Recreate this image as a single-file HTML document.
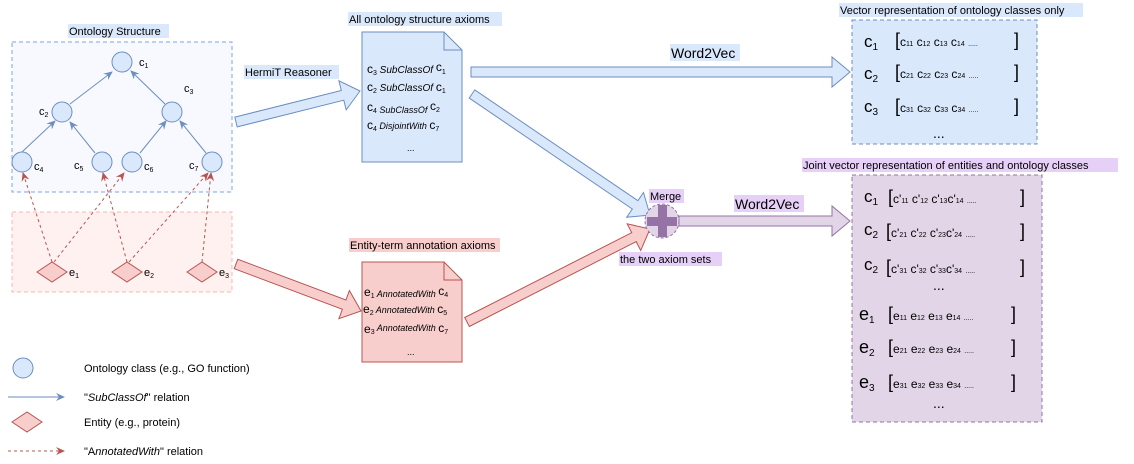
<!DOCTYPE html>
<html><head><meta charset="utf-8"><style>
html,body{margin:0;padding:0;background:#fff}
svg{display:block}
text{font-family:"Liberation Sans",sans-serif;fill:#000}
.i{font-style:italic}
</style></head><body>
<svg id="s" width="1134" height="464" viewBox="0 0 1134 464" xmlns="http://www.w3.org/2000/svg">
<defs>
<marker id="ab" markerWidth="10" markerHeight="10" refX="8" refY="4" orient="auto" markerUnits="userSpaceOnUse"><path d="M0,0 L9,4 L0,8 L3,4z" fill="#6c8ebf"/></marker>
<marker id="ar" markerWidth="10" markerHeight="10" refX="8" refY="4" orient="auto" markerUnits="userSpaceOnUse"><path d="M0,0 L9,4 L0,8 L3,4z" fill="#b85450"/></marker>
</defs>
<rect x="12" y="42" width="220" height="150" fill="#f7f9fe" stroke="#7ea6e0" stroke-dasharray="4,3"/>
<rect x="68" y="24" width="101" height="14" fill="#dae8fc"/>
<text x="69" y="35" font-size="11">Ontology Structure</text>
<rect x="12" y="212" width="220" height="80" fill="#fff1ef" stroke="#f4b8b3" stroke-dasharray="4,3"/>
<g stroke="#6c8ebf" stroke-width="1" marker-end="url(#ab)">
<line x1="70" y1="104" x2="112" y2="72"/>
<line x1="165" y1="104" x2="131" y2="71"/>
<line x1="22" y1="152" x2="55" y2="121"/>
<line x1="95" y1="153" x2="70" y2="122"/>
<line x1="140" y1="153" x2="166" y2="121"/>
<line x1="206" y1="153" x2="180" y2="121"/>
</g>
<g stroke="#b85450" stroke-dasharray="3,3" marker-end="url(#ar)">
<line x1="52" y1="262" x2="23" y2="173"/>
<line x1="54" y1="262" x2="124" y2="173"/>
<line x1="127" y1="262" x2="103" y2="173"/>
<line x1="129" y1="262" x2="208" y2="173"/>
<line x1="202" y1="262" x2="211" y2="173"/>
</g>
<g fill="#dae8fc" stroke="#6c8ebf">
<circle cx="122" cy="62" r="10"/><circle cx="62" cy="112" r="10"/><circle cx="172" cy="112" r="10"/>
<circle cx="22" cy="162" r="10"/><circle cx="102" cy="162" r="10"/><circle cx="132" cy="162" r="10"/><circle cx="212" cy="162" r="10"/>
</g>
<g font-size="11">
<text x="139" y="66">c<tspan font-size="7" dy="2">1</tspan></text>
<text x="39" y="115">c<tspan font-size="7" dy="2">2</tspan></text>
<text x="184" y="92">c<tspan font-size="7" dy="2">3</tspan></text>
<text x="34" y="170">c<tspan font-size="7" dy="2">4</tspan></text>
<text x="74" y="169">c<tspan font-size="7" dy="2">5</tspan></text>
<text x="144" y="170">c<tspan font-size="7" dy="2">6</tspan></text>
<text x="189" y="169">c<tspan font-size="7" dy="2">7</tspan></text>
</g>
<g fill="#f8cecc" stroke="#b85450">
<polygon points="37,272 52,262 67,272 52,282"/><polygon points="112,272 127,262 142,272 127,282"/><polygon points="187,272 202,262 217,272 202,282"/>
</g>
<g font-size="11">
<text x="69" y="276">e<tspan font-size="7" dy="2">1</tspan></text>
<text x="144" y="276">e<tspan font-size="7" dy="2">2</tspan></text>
<text x="219" y="276">e<tspan font-size="7" dy="2">3</tspan></text>
</g>
<g id="arrows"></g>
<rect x="244" y="65" width="95" height="14" fill="#dae8fc"/>
<text x="245" y="76" font-size="11">HermiT Reasoner</text>
<rect x="348" y="12" width="154" height="14" fill="#dae8fc"/>
<text x="349" y="23" font-size="11">All ontology structure axioms</text>
<path d="M362,32 H444 L462,50 V162 H362Z" fill="#dae8fc" stroke="#6c8ebf"/>
<path d="M444,32 V50 H462" fill="none" stroke="#6c8ebf"/>
<g font-size="10">
<text x="367" y="73"><tspan font-size="12">c</tspan><tspan font-size="7" dy="2">3</tspan><tspan class="i" dy="-2"> SubClassOf </tspan><tspan font-size="12" dy="-2">c</tspan><tspan font-size="7" dy="3">1</tspan></text>
<text x="367" y="91"><tspan font-size="12">c</tspan><tspan font-size="7" dy="2">2</tspan><tspan class="i" dy="-2"> SubClassOf </tspan><tspan font-size="12">c</tspan><tspan font-size="7" dy="2">1</tspan></text>
<text x="367" y="111"><tspan font-size="12">c</tspan><tspan font-size="7" dy="2">4</tspan><tspan class="i" font-size="9"> SubClassOf </tspan><tspan font-size="12" dy="-3">c</tspan><tspan font-size="7" dy="2">2</tspan></text>
<text x="367" y="129"><tspan font-size="12">c</tspan><tspan font-size="7" dy="2">4</tspan><tspan class="i" font-size="9" dy="-2"> DisjointWith </tspan><tspan font-size="12">c</tspan><tspan font-size="7" dy="2">7</tspan></text>
<text x="407" y="151" font-size="9">...</text>
</g>
<rect x="349" y="238" width="151" height="14" fill="#f8cecc"/>
<text x="350" y="249" font-size="11">Entity-term annotation axioms</text>
<path d="M362,262 H444 L462,280 V362 H362Z" fill="#f8cecc" stroke="#b85450"/>
<path d="M444,262 V280 H462" fill="none" stroke="#b85450"/>
<g font-size="9">
<text x="364" y="296"><tspan font-size="12">e</tspan><tspan font-size="7" dy="2">1</tspan><tspan class="i" dy="-1"> AnnotatedWith </tspan><tspan font-size="12" dy="-2">c</tspan><tspan font-size="7" dy="2">4</tspan></text>
<text x="363" y="313"><tspan font-size="12">e</tspan><tspan font-size="7" dy="2">2</tspan><tspan class="i" dy="-2"> AnnotatedWith </tspan><tspan font-size="12">c</tspan><tspan font-size="7" dy="2">5</tspan></text>
<text x="364" y="333"><tspan font-size="12">e</tspan><tspan font-size="7" dy="1">3</tspan><tspan class="i" dy="-3"> AnnotatedWith </tspan><tspan font-size="12" dy="1">c</tspan><tspan font-size="7" dy="2">7</tspan></text>
<text x="407" y="355">...</text>
</g>
<circle cx="662" cy="221" r="17" fill="#e1d5e7" stroke="#9673a6" stroke-dasharray="3,2"/>
<rect x="647" y="217" width="30" height="9" fill="#9673a6"/>
<rect x="658" y="205" width="9" height="32" fill="#9673a6"/>
<rect x="649" y="189" width="35" height="14" fill="#e6d0f8"/>
<text x="650" y="200" font-size="11">Merge</text>
<rect x="619" y="252" width="103" height="14" fill="#e6d0f8"/>
<text x="620" y="263" font-size="11">the two axiom sets</text>
<rect x="670" y="44" width="70" height="17" fill="#dae8fc"/>
<text x="671" y="58" font-size="14">Word2Vec</text>
<rect x="734" y="195" width="70" height="17" fill="#e6d0f8"/>
<text x="735" y="209" font-size="14">Word2Vec</text>
<rect x="839" y="3" width="244" height="14" fill="#dae8fc"/>
<text x="840" y="14" font-size="11">Vector representation of ontology classes only</text>
<rect x="852" y="20" width="185" height="124" fill="#dae8fc" stroke="#6c8ebf" stroke-dasharray="4,3"/>
<g font-size="12">
<text x="864" y="47"><tspan font-size="17">c</tspan><tspan font-size="10" dy="3">1</tspan></text>
<text x="864" y="79"><tspan font-size="17">c</tspan><tspan font-size="10" dy="3">2</tspan></text>
<text x="864" y="112"><tspan font-size="17">c</tspan><tspan font-size="10" dy="3">3</tspan></text>
<text x="895" y="46"><tspan font-size="18">[</tspan>c<tspan font-size="7">11</tspan> c<tspan font-size="7">12</tspan> c<tspan font-size="7">13</tspan> c<tspan font-size="7">14</tspan>   <tspan font-size="7">.....</tspan></text>
<text x="895" y="78"><tspan font-size="18">[</tspan>c<tspan font-size="7">21</tspan> c<tspan font-size="7">22</tspan> c<tspan font-size="7">23</tspan> c<tspan font-size="7">24</tspan>   <tspan font-size="7">.....</tspan></text>
<text x="895" y="112"><tspan font-size="18">[</tspan>c<tspan font-size="7">31</tspan> c<tspan font-size="7">32</tspan> c<tspan font-size="7">33</tspan> c<tspan font-size="7">34</tspan>   <tspan font-size="7">.....</tspan></text>
<text x="1014" y="46" font-size="18">]</text><text x="1014" y="78" font-size="18">]</text><text x="1014" y="112" font-size="18">]</text>
<text x="933" y="138" font-size="14">...</text>
</g>
<rect x="802" y="158" width="316" height="14" fill="#e6d0f8"/>
<text x="803" y="169" font-size="11">Joint vector representation of entities and ontology classes</text>
<rect x="852" y="175" width="190" height="247" fill="#e1d5e7" stroke="#9673a6" stroke-dasharray="4,3"/>
<g font-size="12">
<text x="864" y="202"><tspan font-size="17">c</tspan><tspan font-size="10" dy="3">1</tspan></text>
<text x="864" y="235"><tspan font-size="17">c</tspan><tspan font-size="10" dy="3">2</tspan></text>
<text x="864" y="270"><tspan font-size="17">c</tspan><tspan font-size="10" dy="3">2</tspan></text>
<text x="888" y="203"><tspan font-size="18">[</tspan>c'<tspan font-size="7">11</tspan> c'<tspan font-size="7">12</tspan> c'<tspan font-size="7">13</tspan>c'<tspan font-size="7">14</tspan>   <tspan font-size="7">.....</tspan></text>
<text x="886" y="237"><tspan font-size="18">[</tspan>c'<tspan font-size="7">21</tspan> c'<tspan font-size="7">22</tspan> c'<tspan font-size="7">23</tspan>c'<tspan font-size="7">24</tspan>   <tspan font-size="7">.....</tspan></text>
<text x="886" y="273"><tspan font-size="18">[</tspan>c'<tspan font-size="7">31</tspan> c'<tspan font-size="7">32</tspan> c'<tspan font-size="7">33</tspan>c'<tspan font-size="7">34</tspan>   <tspan font-size="7">.....</tspan></text>
<text x="1020" y="203" font-size="18">]</text><text x="1020" y="237" font-size="18">]</text><text x="1020" y="273" font-size="18">]</text>
<text x="933" y="290" font-size="14">...</text>
<text x="859" y="320"><tspan font-size="18">e</tspan><tspan font-size="10" dy="3">1</tspan></text>
<text x="859" y="353"><tspan font-size="18">e</tspan><tspan font-size="10" dy="3">2</tspan></text>
<text x="859" y="388"><tspan font-size="18">e</tspan><tspan font-size="10" dy="3">3</tspan></text>
<text x="888" y="320"><tspan font-size="18">[</tspan>e<tspan font-size="7">11</tspan> e<tspan font-size="7">12</tspan> e<tspan font-size="7">13</tspan> e<tspan font-size="7">14</tspan>   <tspan font-size="7">.....</tspan></text>
<text x="888" y="353"><tspan font-size="18">[</tspan>e<tspan font-size="7">21</tspan> e<tspan font-size="7">22</tspan> e<tspan font-size="7">23</tspan> e<tspan font-size="7">24</tspan>   <tspan font-size="7">.....</tspan></text>
<text x="888" y="388"><tspan font-size="18">[</tspan>e<tspan font-size="7">31</tspan> e<tspan font-size="7">32</tspan> e<tspan font-size="7">33</tspan> e<tspan font-size="7">34</tspan>   <tspan font-size="7">.....</tspan></text>
<text x="1011" y="320" font-size="18">]</text><text x="1011" y="353" font-size="18">]</text><text x="1011" y="388" font-size="18">]</text>
<text x="933" y="408" font-size="14">...</text>
</g>
<circle cx="23" cy="368" r="10" fill="#dae8fc" stroke="#6c8ebf"/>
<text x="84" y="372" font-size="11">Ontology class (e.g., GO function)</text>
<line x1="8" y1="397" x2="64" y2="397" stroke="#6c8ebf" marker-end="url(#ab)"/>
<text x="84" y="401" font-size="11">"<tspan class="i">SubClassOf</tspan>" relation</text>
<polygon points="12,422 27,412 42,422 27,432" fill="#f8cecc" stroke="#b85450"/>
<text x="84" y="426" font-size="11">Entity (e.g., protein)</text>
<line x1="8" y1="451" x2="64" y2="451" stroke="#b85450" stroke-dasharray="3,3" marker-end="url(#ar)"/>
<text x="84" y="455" font-size="11">"A<tspan class="i">nnotatedWith</tspan>" relation</text>
</svg>
<script>
function ba(x1,y1,x2,y2,w,hw,hl,fill,stroke){
 var dx=x2-x1,dy=y2-y1,L=Math.hypot(dx,dy),ux=dx/L,uy=dy/L,nx=-uy,ny=ux;
 var bx=x2-ux*hl,by=y2-uy*hl;
 var p=[[x1+nx*w/2,y1+ny*w/2],[bx+nx*w/2,by+ny*w/2],[bx+nx*hw/2,by+ny*hw/2],[x2,y2],[bx-nx*hw/2,by-ny*hw/2],[bx-nx*w/2,by-ny*w/2],[x1-nx*w/2,y1-ny*w/2]];
 var e=document.createElementNS("http://www.w3.org/2000/svg","polygon");
 e.setAttribute("points",p.map(function(q){return q[0].toFixed(1)+","+q[1].toFixed(1)}).join(" "));
 e.setAttribute("fill",fill);e.setAttribute("stroke",stroke);
 document.getElementById("arrows").appendChild(e);
}
ba(236,122,360,91,10,30,18,"#dae8fc","#6c8ebf");
ba(471,72,850,72,10,30,18,"#dae8fc","#6c8ebf");
ba(472,94,650,215,10,30,18,"#dae8fc","#6c8ebf");
ba(236,264,361,311,10,30,18,"#f8cecc","#b85450");
ba(467,322,650,229,10,30,18,"#f8cecc","#b85450");
ba(679,221,850,221,10,30,18,"#e1d5e7","#9673a6");
</script>
</body></html>
